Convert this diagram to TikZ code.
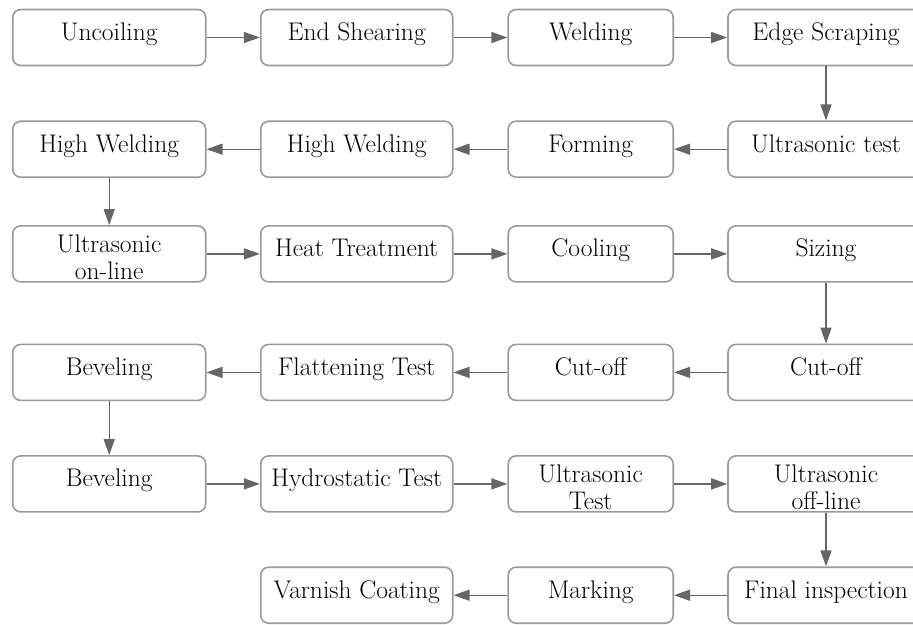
\documentclass[tikz,border=0pt]{standalone}
\usetikzlibrary{arrows.meta}
\definecolor{boxline}{HTML}{9A9A9A}
\definecolor{arrline}{HTML}{666666}
\newcommand\twolines[2]{\raisebox{-7pt}[\height][\depth]{\begin{tabular}{@{}c@{}}#1\\#2\end{tabular}}}
\tikzset{
  x=1pt,y=-1pt,
  stepbox/.style={draw=boxline, line width=1.6pt, rounded corners=8pt,
    minimum height=56pt, align=center, inner sep=0pt,
    font=\fontsize{25.5}{27}\selectfont, text=black},
  one/.style={text height=18pt, text depth=12pt},
  w1/.style={minimum width=193pt},
  w2/.style={minimum width=192pt},
  w3/.style={minimum width=165pt},
  w4/.style={minimum width=196pt},
  flow/.style={draw=arrline, line width=1.4pt, -{Triangle[length=16pt,width=11pt]}},
}
\begin{document}
\begin{tikzpicture}
\useasboundingbox (0,0) rectangle (913,624);
\def\cA{109.2}\def\cB{356.7}\def\cC{590.7}\def\cD{826}
\def\rA{37.5}\def\rB{149.2}\def\rC{253.9}\def\rD{372.4}\def\rE{483.9}\def\rF{595.2}
% row 1
\node[stepbox,one,w1] (a1) at (\cA,\rA) {Uncoiling};
\node[stepbox,one,w2] (a2) at (\cB,\rA) {End Shearing};
\node[stepbox,one,w3] (a3) at (\cC,\rA) {Welding};
\node[stepbox,one,w4] (a4) at (\cD,\rA) {Edge Scraping};
% row 2
\node[stepbox,one,w1] (b1) at (\cA,\rB) {High Welding};
\node[stepbox,one,w2] (b2) at (\cB,\rB) {High Welding};
\node[stepbox,one,w3] (b3) at (\cC,\rB) {Forming};
\node[stepbox,one,w4] (b4) at (\cD,\rB) {Ultrasonic test};
% row 3
\node[stepbox,w1] (c1) at (\cA,\rC) {\twolines{Ultrasonic}{on-line}};
\node[stepbox,one,w2] (c2) at (\cB,\rC) {Heat Treatment};
\node[stepbox,one,w3] (c3) at (\cC,\rC) {Cooling};
\node[stepbox,one,w4] (c4) at (\cD,\rC) {Sizing};
% row 4
\node[stepbox,one,w1] (d1) at (\cA,\rD) {Beveling};
\node[stepbox,one,w2] (d2) at (\cB,\rD) {Flattening Test};
\node[stepbox,one,w3] (d3) at (\cC,\rD) {Cut-off};
\node[stepbox,one,w4] (d4) at (\cD,\rD) {Cut-off};
% row 5
\node[stepbox,one,w1] (e1) at (\cA,\rE) {Beveling};
\node[stepbox,one,w2] (e2) at (\cB,\rE) {Hydrostatic Test};
\node[stepbox,w3] (e3) at (\cC,\rE) {\twolines{Ultrasonic}{Test}};
\node[stepbox,w4] (e4) at (\cD,\rE) {\twolines{Ultrasonic}{off-line}};
% row 6
\node[stepbox,one,w2] (f2) at (\cB,\rF) {Varnish Coating};
\node[stepbox,one,w3] (f3) at (\cC,\rF) {Marking};
\node[stepbox,one,w4] (f4) at (\cD,\rF) {Final inspection};
% connectors
\draw[flow] (a1) -- (a2);
\draw[flow] (a2) -- (a3);
\draw[flow] (a3) -- (a4);
\draw[flow] (a4) -- (b4);
\draw[flow] (b4) -- (b3);
\draw[flow] (b3) -- (b2);
\draw[flow] (b2) -- (b1);
\draw[flow] (b1) -- (c1);
\draw[flow] (c1) -- (c2);
\draw[flow] (c2) -- (c3);
\draw[flow] (c3) -- (c4);
\draw[flow] (c4) -- (d4);
\draw[flow] (d4) -- (d3);
\draw[flow] (d3) -- (d2);
\draw[flow] (d2) -- (d1);
\draw[flow] (d1) -- (e1);
\draw[flow] (e1) -- (e2);
\draw[flow] (e2) -- (e3);
\draw[flow] (e3) -- (e4);
\draw[flow] (e4) -- (f4);
\draw[flow] (f4) -- (f3);
\draw[flow] (f3) -- (f2);
\end{tikzpicture}
\end{document}
